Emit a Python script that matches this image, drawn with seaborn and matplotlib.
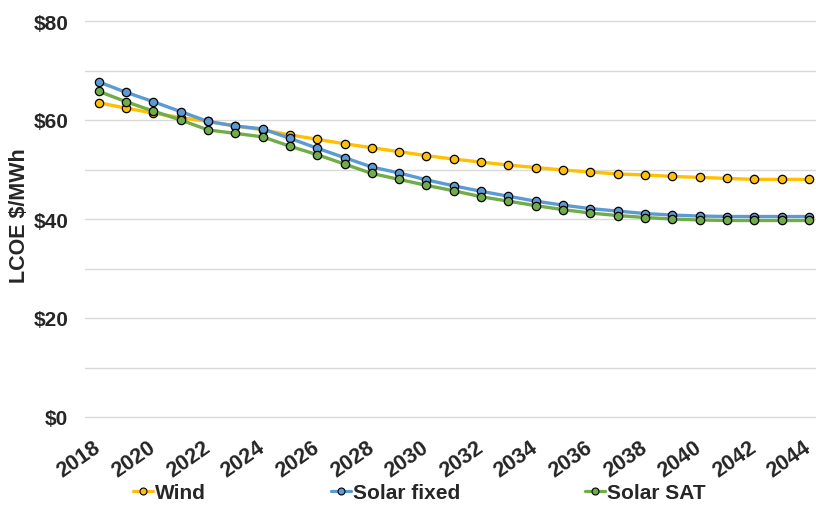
import matplotlib
matplotlib.use("Agg")
import matplotlib.pyplot as plt
from matplotlib.lines import Line2D
from matplotlib.ticker import MultipleLocator, FuncFormatter
import seaborn as sns
import pandas as pd

years = list(range(2018, 2045))
wind = [63.5, 62.4, 61.4, 60.5, 59.7, 58.8, 58.0, 57.0, 56.1, 55.2, 54.4, 53.6, 52.8,
        52.1, 51.5, 50.9, 50.4, 49.9, 49.5, 49.1, 48.9, 48.6, 48.4, 48.2, 48.0, 48.0, 48.0]
solar_fixed = [67.7, 65.6, 63.7, 61.7, 59.7, 58.8, 58.2, 56.3, 54.3, 52.4, 50.5, 49.3, 47.9,
               46.7, 45.6, 44.6, 43.6, 42.8, 42.1, 41.6, 41.1, 40.8, 40.6, 40.5, 40.5, 40.5, 40.5]
solar_sat = [65.8, 63.7, 61.8, 60.0, 58.0, 57.3, 56.6, 54.7, 53.0, 51.1, 49.2, 48.0, 46.8,
             45.7, 44.5, 43.6, 42.7, 41.9, 41.2, 40.7, 40.3, 40.0, 39.8, 39.7, 39.7, 39.7, 39.7]
series_names = ["Wind", "Solar fixed", "Solar SAT"]
colors = ["#FFC000", "#5B9BD5", "#70AD47"]
xtick_years = list(range(2018, 2045, 2))

sns.set_theme(style="white")
plt.rcParams["font.family"] = ["Liberation Sans", "DejaVu Sans"]
plt.rcParams["font.weight"] = "bold"

fig = plt.figure(figsize=(8.16, 5.06), dpi=100)
ax = fig.add_axes([85 / 816, 88 / 506, 1 - 85 / 816, (418 - 22) / 506])

for name, vals, col in zip(series_names, [wind, solar_fixed, solar_sat], colors):
    df = pd.DataFrame({"year": years, "value": vals})
    sns.lineplot(data=df, x="year", y="value", ax=ax, color=col, linewidth=2.4,
                 marker="o", markersize=6, markeredgecolor="black",
                 markeredgewidth=0.9, markerfacecolor=col, legend=False)

ax.set_xlim(2017.5, 2044.26)
ax.set_ylim(0, 80)
ax.yaxis.set_major_locator(MultipleLocator(20))
ax.yaxis.set_minor_locator(MultipleLocator(10))
ax.yaxis.set_major_formatter(FuncFormatter(lambda v, p: f"${v:.0f}"))
ax.grid(which="both", axis="y", color="#D9D9D9", linewidth=1)
ax.grid(axis="x", visible=False)
ax.set_axisbelow(True)
for gl in ax.get_ygridlines():
    gl.set_clip_on(False)
for s in ax.spines.values():
    s.set_visible(False)

ax.set_xticks(xtick_years)
ax.set_xticklabels([str(y) for y in xtick_years], rotation=35, ha="right",
                   va="center", rotation_mode="anchor", fontsize=15.5, fontweight="bold")
ax.tick_params(axis="x", length=0, pad=20)
ax.tick_params(axis="y", which="both", length=0, pad=12, labelsize=15)
for t in ax.get_yticklabels():
    t.set_fontweight("bold")
ax.set_xlabel("")
ax.set_ylabel("")
fig.text(20 / 816, 1 - 216 / 506, "LCOE $/MWh", rotation=90, ha="center", va="center",
         fontsize=15.5, fontweight="bold")

legend_x = [133, 331, 585]
for name, col, lx in zip(series_names, colors, legend_x):
    h = Line2D([0], [0], color=col, linewidth=2.3, marker="o", markersize=5,
               markerfacecolor=col, markeredgecolor="black", markeredgewidth=0.8)
    fig.legend([h], [name], loc="center left", bbox_to_anchor=(lx / 816, 1 - 494 / 506),
               frameon=False, borderpad=0, borderaxespad=0, handlelength=0.95,
               handletextpad=0.1, prop={"size": 15, "weight": "bold"})

fig.savefig("out.png", dpi=100)
